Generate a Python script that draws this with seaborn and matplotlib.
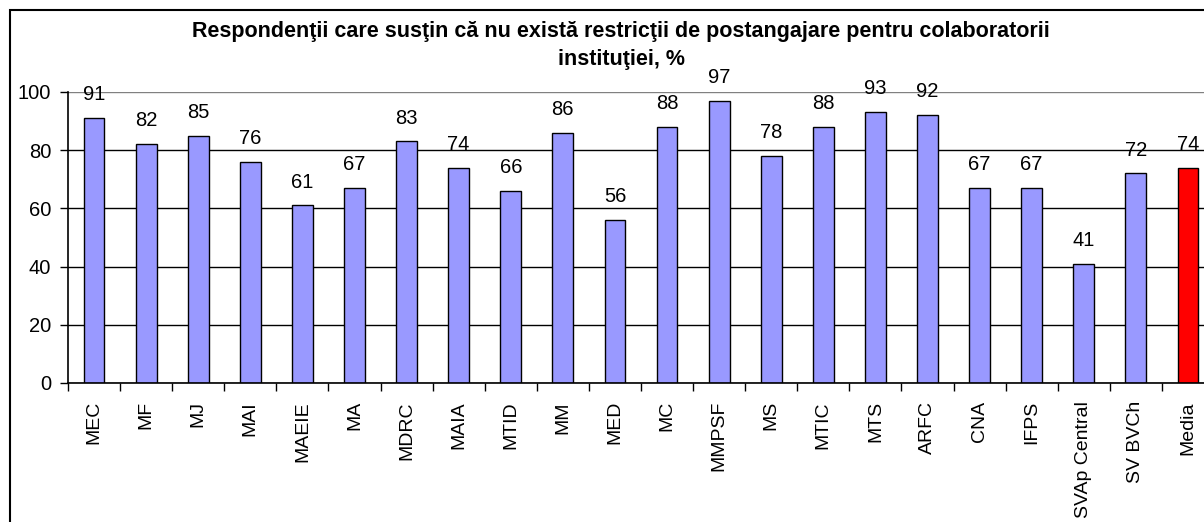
import numpy as np
import matplotlib
matplotlib.use("Agg")
import matplotlib.pyplot as plt
import seaborn as sns
from matplotlib.patches import Rectangle

sns.set_style("white")
plt.rcParams["font.family"] = ["Liberation Sans", "DejaVu Sans"]
plt.rcParams["text.color"] = "black"
plt.rcParams["xtick.color"] = "black"
plt.rcParams["ytick.color"] = "black"

categories = ["MEC", "MF", "MJ", "MAI", "MAEIE", "MA", "MDRC", "MAIA", "MTID", "MM",
              "MED", "MC", "MMPSF", "MS", "MTIC", "MTS", "ARFC", "CNA", "IFPS",
              "SVAp Central", "SV BVCh", "Media"]
values = [91, 82, 85, 76, 61, 67, 83, 74, 66, 86, 56, 88, 97, 78, 88, 93, 92, 67, 67,
          41, 72, 74]
bar_colors = ["#9999FF"] * 21 + ["#FF0000"]
title_lines = ["Respondenţii care susţin că nu există restricţii de postangajare pentru colaboratorii",
               "instituţiei, %"]

fig = plt.figure(figsize=(12.04, 5.22), dpi=100)
ax = fig.add_axes([68 / 1204, 1 - 383 / 522, 1146 / 1204, 291 / 522])

sns.barplot(x=categories, y=values, hue=categories, palette=bar_colors, legend=False,
            width=0.4, edgecolor="black", linewidth=1, saturation=1, ax=ax)

# value labels above each bar
for cont in ax.containers:
    ax.bar_label(cont, padding=10, fontsize=14.5, color="black")

ax.set_ylim(0, 100)
ax.set_xlim(-0.5, len(categories) - 0.5)
ax.set_yticks(range(0, 101, 20))
ax.tick_params(axis="y", labelsize=14.5, direction="out", length=6, width=1,
               left=True, pad=6)
ax.set_xticks(range(len(categories)))
ax.set_xticklabels(categories, rotation=90, fontsize=14)
ax.set_xticks(np.arange(-0.5, len(categories), 1), minor=True)
ax.tick_params(axis="x", which="major", length=0, pad=13)
ax.tick_params(axis="x", which="minor", direction="out", length=6, width=1,
               bottom=True)
ax.yaxis.grid(True, color="black", linewidth=1)
ax.get_ygridlines()[-1].set_color("gray")
ax.set_axisbelow(True)
for s in ["top", "right"]:
    ax.spines[s].set_visible(False)
for s in ["left", "bottom"]:
    ax.spines[s].set_color("black")
    ax.spines[s].set_linewidth(1.2)
ax.set_xlabel("")
ax.set_ylabel("")

# title as two separate lines
for line, ypix in zip(title_lines, [32, 60]):
    fig.text(621 / 1204, 1 - ypix / 522, line, ha="center", va="center",
             fontsize=15.5, fontweight="bold")

# chart-area border
fig.patches.append(Rectangle((10 / 1204, -0.1), 1.1, 1 - 10 / 522 + 0.1,
                             transform=fig.transFigure, fill=False,
                             edgecolor="black", linewidth=1.5))

fig.savefig("out.png", dpi=100)
